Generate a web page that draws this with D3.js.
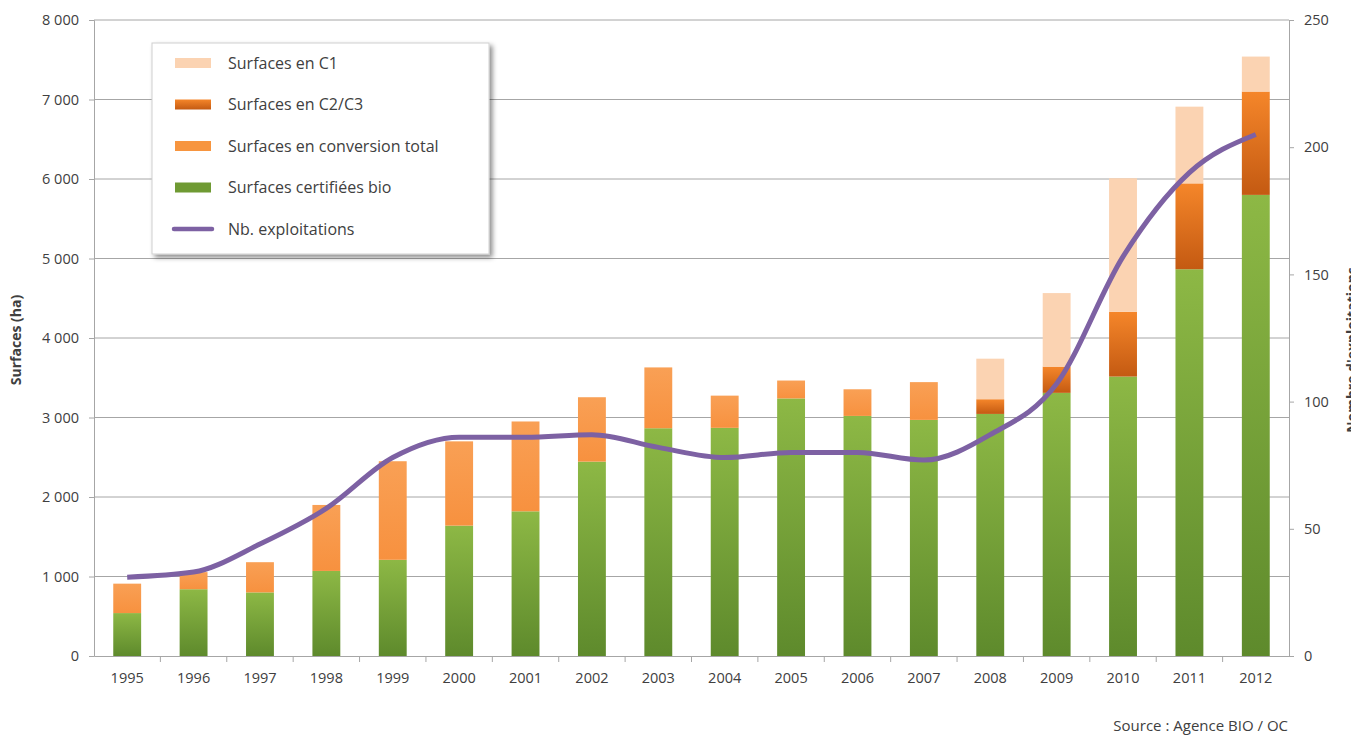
<!DOCTYPE html>
<html>
<head>
<meta charset="UTF-8">
<title>Surfaces bio</title>
<script src="https://cdn.jsdelivr.net/npm/d3@7"></script>
<style>
	body { margin: 0; background: #fff; }
	svg text { font-family: "Open Sans", "DejaVu Sans", sans-serif; fill: #404040; }
</style>
</head>
<body>
<div id="chart"></div>
<script>
	// data
	var years = ["1995","1996","1997","1998","1999","2000","2001","2002","2003","2004","2005","2006","2007","2008","2009","2010","2011","2012"];
	var certifiees = [540, 840, 800, 1070, 1210, 1640, 1820, 2445, 2865, 2870, 3240, 3020, 2970, 3045, 3310, 3515, 4865, 5800];
	var conversionTotal = [370, 215, 380, 830, 1240, 1060, 1130, 810, 765, 405, 225, 335, 475, 0, 0, 0, 0, 0];
	var c2c3 = [0, 0, 0, 0, 0, 0, 0, 0, 0, 0, 0, 0, 0, 185, 330, 815, 1080, 1300];
	var c1 = [0, 0, 0, 0, 0, 0, 0, 0, 0, 0, 0, 0, 0, 510, 925, 1680, 965, 440];
	var exploitations = [31, 33, 44, 58, 78, 86, 86, 87, 82, 78, 80, 80, 77, 87, 107, 157, 190, 205];
	var leftTicks = [0, 1000, 2000, 3000, 4000, 5000, 6000, 7000, 8000];
	var rightTicks = [0, 50, 100, 150, 200, 250];

	var width = 1351, height = 740;
	var svg = d3.select("#chart").append("svg")
		.attr("width", width).attr("height", height);

	var x = d3.scaleBand().domain(years).range([94, 1289]).paddingInner(0.58).paddingOuter(0.29);
	var y = d3.scaleLinear().domain([0, 8000]).range([656, 20]);
	var y2 = d3.scaleLinear().domain([0, 250]).range([656, 20]);

	var defs = svg.append("defs");
	function vgrad(id, top, bottom) {
		var g = defs.append("linearGradient").attr("id", id)
			.attr("x1", 0).attr("y1", 0).attr("x2", 0).attr("y2", 1);
		g.append("stop").attr("offset", "0%").attr("stop-color", top);
		g.append("stop").attr("offset", "100%").attr("stop-color", bottom);
	}
	vgrad("gGreen", "#8db845", "#5e8a2c");
	vgrad("gDark", "#f5862a", "#c45a12");
	vgrad("gOrange", "#f9a055", "#f7913f");
	var shadow = defs.append("filter").attr("id", "shadow").attr("x", "-5%").attr("y", "-5%").attr("width", "115%").attr("height", "115%");
	shadow.append("feDropShadow").attr("dx", 3).attr("dy", 3).attr("stdDeviation", 2.5).attr("flood-color", "#000").attr("flood-opacity", 0.45);

	// gridlines
	svg.append("g").selectAll("line").data(leftTicks.slice(1)).enter().append("line")
		.attr("x1", 94).attr("x2", 1289)
		.attr("y1", function(d){ return y(d); }).attr("y2", function(d){ return y(d); })
		.attr("stroke", "#a6a6a6").attr("stroke-width", 1);

	// left axis
	var leftAxis = svg.append("g").attr("transform", "translate(94,0)")
		.call(d3.axisLeft(y).tickValues(leftTicks).tickSize(5).tickPadding(10)
			.tickFormat(function(d){ return d3.format(",")(d).replace(",", " "); }));
	leftAxis.selectAll("text").style("font-size", "14.5px");

	// right axis
	var rightAxis = svg.append("g").attr("transform", "translate(1289,0)")
		.call(d3.axisRight(y2).tickValues(rightTicks).tickSize(5).tickPadding(10));
	rightAxis.selectAll("text").style("font-size", "14.5px");

	// bottom axis
	var bottomAxis = svg.append("g").attr("transform", "translate(0,656)")
		.call(d3.axisBottom(x).tickSize(0).tickPadding(17));
	bottomAxis.selectAll("text").style("font-size", "14.5px");
	bottomAxis.selectAll(".sep").data(years.slice(1)).enter().append("line")
		.attr("x1", function(d){ return x(d) - x.step() * x.paddingInner() / 2; })
		.attr("x2", function(d){ return x(d) - x.step() * x.paddingInner() / 2; })
		.attr("y1", 0).attr("y2", 6).attr("stroke", "#a6a6a6");

	[leftAxis, rightAxis, bottomAxis].forEach(function(a){
		a.selectAll("path.domain, .tick line").attr("stroke", "#a6a6a6");
	});

	// stacked bars
	var layers = [
		{ values: certifiees, fill: "url(#gGreen)" },
		{ values: conversionTotal, fill: "url(#gOrange)" },
		{ values: c2c3, fill: "url(#gDark)" },
		{ values: c1, fill: "#fbd3b2" }
	];
	var base = years.map(function(){ return 0; });
	layers.forEach(function(layer){
		var rows = years.map(function(yr, i){ return { yr: yr, y0: base[i], y1: base[i] + layer.values[i] }; });
		svg.append("g").selectAll("rect").data(rows.filter(function(r){ return r.y1 > r.y0; })).enter().append("rect")
			.attr("x", function(d){ return x(d.yr); })
			.attr("width", x.bandwidth())
			.attr("y", function(d){ return y(d.y1); })
			.attr("height", function(d){ return y(d.y0) - y(d.y1); })
			.attr("fill", layer.fill);
		rows.forEach(function(r, i){ base[i] = r.y1; });
	});

	// line
	var line = d3.line()
		.x(function(d, i){ return x(years[i]) + x.bandwidth() / 2; })
		.y(function(d){ return y2(d); })
		.curve(d3.curveMonotoneX);
	svg.append("path").datum(exploitations)
		.attr("d", line).attr("fill", "none")
		.attr("stroke", "#7d61a3").attr("stroke-width", 5).attr("stroke-linejoin", "round");

	// axis titles
	svg.append("text").attr("transform", "translate(21,340) rotate(-90)")
		.attr("text-anchor", "middle").style("font-size", "14px").style("font-weight", "bold")
		.text("Surfaces (ha)");
	svg.append("text").attr("transform", "translate(1357,350) rotate(-90)")
		.attr("text-anchor", "middle").style("font-size", "14px").style("font-weight", "bold")
		.text("Nombre d'exploitations");

	// legend
	var legendItems = [
		{ label: "Surfaces en C1", fill: "#fbd3b2", type: "rect" },
		{ label: "Surfaces en C2/C3", fill: "url(#gDark)", type: "rect" },
		{ label: "Surfaces en conversion total", fill: "#f7953f", type: "rect" },
		{ label: "Surfaces certifi\u00e9es bio", fill: "#6f9a33", type: "rect" },
		{ label: "Nb. exploitations", fill: "#7d61a3", type: "line" }
	];
	var legend = svg.append("g").attr("transform", "translate(152,43)");
	legend.append("rect").attr("width", 337).attr("height", 211)
		.attr("fill", "#fff").attr("stroke", "#d0d0d0").attr("filter", "url(#shadow)");
	var li = legend.selectAll("g.item").data(legendItems).enter().append("g")
		.attr("transform", function(d, i){ return "translate(0," + (20 + i * 41.5) + ")"; });
	li.filter(function(d){ return d.type === "rect"; }).append("rect")
		.attr("x", 23).attr("y", -5).attr("width", 36).attr("height", 10).attr("fill", function(d){ return d.fill; });
	li.filter(function(d){ return d.type === "line"; }).append("line")
		.attr("x1", 22).attr("x2", 60).attr("y1", 0).attr("y2", 0)
		.attr("stroke", function(d){ return d.fill; }).attr("stroke-width", 4.5).attr("stroke-linecap", "round");
	li.append("text").attr("x", 76).attr("dy", "0.35em").style("font-size", "16px")
		.text(function(d){ return d.label; });

	svg.append("text").attr("x", 1288).attr("y", 731).attr("text-anchor", "end")
		.style("font-size", "15px").text("Source : Agence BIO / OC");
</script>
</body>
</html>
